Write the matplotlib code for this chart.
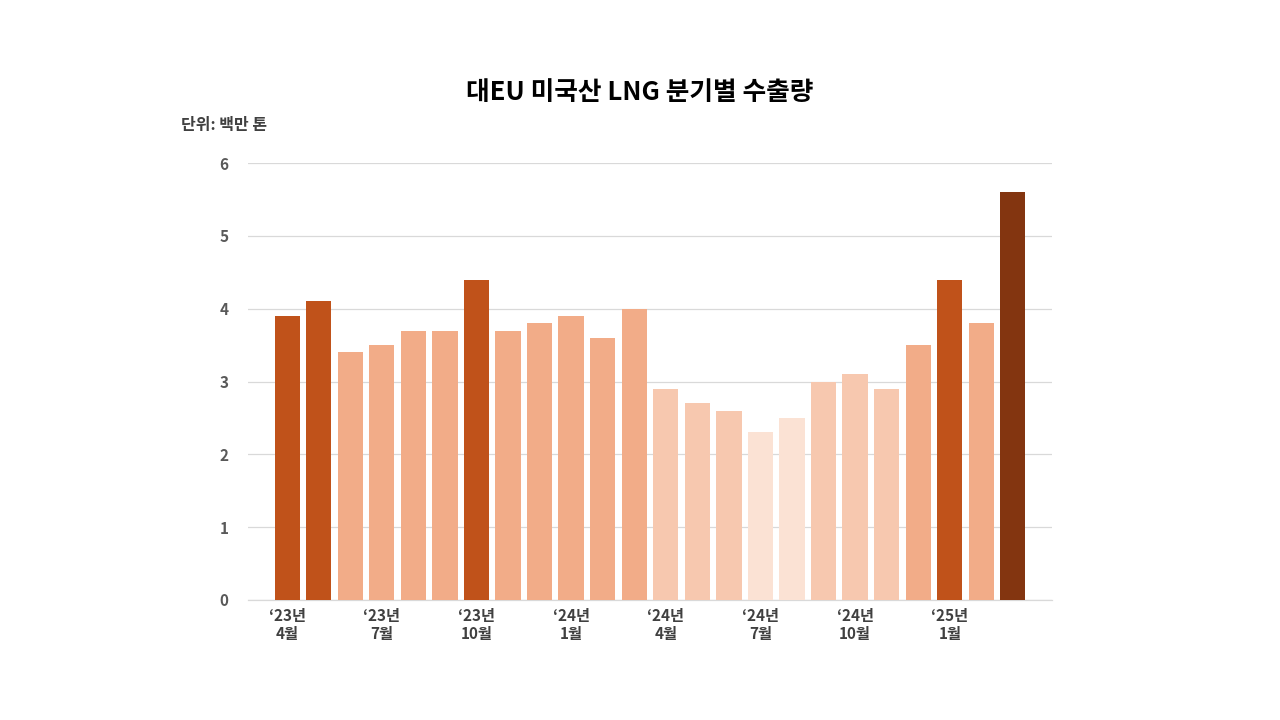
import matplotlib
matplotlib.use("Agg")
import matplotlib.pyplot as plt

plt.rcParams['font.family'] = ['Noto Sans CJK KR', 'DejaVu Sans']

values = [3.9, 4.1, 3.4, 3.5, 3.7, 3.7, 4.4, 3.7, 3.8, 3.9, 3.6, 4.0,
          2.9, 2.7, 2.6, 2.3, 2.5, 3.0, 3.1, 2.9, 3.5, 4.4, 3.8, 5.6]
levels = [1, 1, 2, 2, 2, 2, 1, 2, 2, 2, 2, 2,
          3, 3, 3, 4, 4, 3, 3, 3, 2, 1, 2, 0]
palette = {0: '#833510', 1: '#C0521A', 2: '#F2AC88', 3: '#F7C8AF', 4: '#FBE2D4'}
tick_pos = [0, 3, 6, 9, 12, 15, 18, 21]
tick_labels = ["\u201823년\n4월", "\u201823년\n7월", "\u201823년\n10월", "\u201824년\n1월",
               "\u201824년\n4월", "\u201824년\n7월", "\u201824년\n10월", "\u201825년\n1월"]
yticks = [0, 1, 2, 3, 4, 5, 6]

fig = plt.figure(figsize=(12.8, 7.2), dpi=100)
ax = fig.add_axes([248/1280, 1 - 600/720, (1052-248)/1280, (600-163)/720])

x = list(range(len(values)))
ax.bar(x, values, width=0.8, color=[palette[l] for l in levels], zorder=3)

ax.set_ylim(0, 6)
ax.set_xlim(-1.24, 24.24)
ax.set_yticks(yticks)
ax.set_yticklabels([str(v) for v in yticks], fontsize=11, fontweight='bold', color='#595959')
ax.set_xticks(tick_pos)
ax.set_xticklabels(tick_labels, fontsize=11, fontweight='bold', color='#404040', linespacing=1.1)
ax.tick_params(axis='both', length=0)
ax.tick_params(axis='y', pad=14)
ax.tick_params(axis='x', pad=6)
ax.grid(axis='y', color='#D9D9D9', linewidth=0.9, zorder=0)
for s in ['top', 'right', 'left']:
    ax.spines[s].set_visible(False)
ax.spines['bottom'].set_color('#D9D9D9')
ax.spines['bottom'].set_linewidth(0.9)

fig.text(640/1280, 1 - 92/720, "대EU 미국산 LNG 분기별 수출량", ha='center', va='center',
         fontsize=18.5, fontweight='bold', color='#000000')
fig.text(181/1280, 1 - 125/720, "단위: 백만 톤", ha='left', va='center',
         fontsize=11.5, fontweight='bold', color='#404040')

fig.savefig("out.png", dpi=100)
